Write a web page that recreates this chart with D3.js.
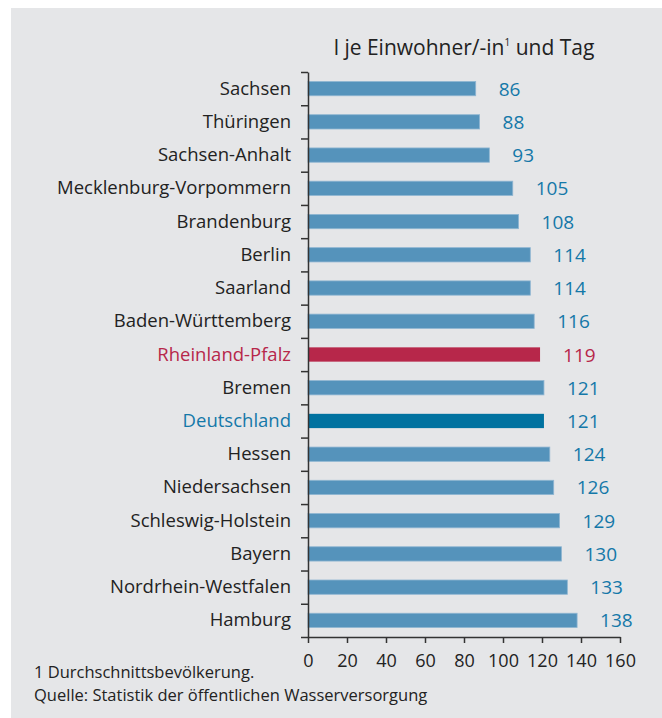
<!DOCTYPE html>
<html>
<head>
<meta charset="utf-8">
<script src="https://cdn.jsdelivr.net/npm/d3@7"></script>
<style>
  body { margin: 0; background: #fff; }
  text { font-family: "Open Sans", sans-serif; }
</style>
</head>
<body>
<svg id="chart"></svg>
<script>
// data
const categories = ["Sachsen", "Thüringen", "Sachsen-Anhalt", "Mecklenburg-Vorpommern",
    "Brandenburg", "Berlin", "Saarland", "Baden-Württemberg", "Rheinland-Pfalz", "Bremen",
    "Deutschland", "Hessen", "Niedersachsen", "Schleswig-Holstein", "Bayern",
    "Nordrhein-Westfalen", "Hamburg"];
const values = [86, 88, 93, 105, 108, 114, 114, 116, 119, 121, 121, 124, 126, 129, 130, 133, 138];
const xTicks = [0, 20, 40, 60, 80, 100, 120, 140, 160];
const title = "l je Einwohner/-in";
const footnotes = ["1 Durchschnittsbevölkerung.", "Quelle: Statistik der öffentlichen Wasserversorgung"];

const data = categories.map((c, i) => ({name: c, value: values[i]}));

let width = 662, height = 718;
let margin = {top: 72, right: 42, bottom: 81, left: 308};

const svg = d3.select("#chart")
    .attr("width", width)
    .attr("height", height);

// grey panel
svg.append("rect")
    .attr("x", 11).attr("y", 8)
    .attr("width", width - 11).attr("height", height - 8)
    .attr("fill", "#e5e6e8");

const x = d3.scaleLinear()
    .domain([0, 160])
    .range([margin.left, width - margin.right]);

const y = d3.scaleBand()
    .domain(categories)
    .range([margin.top, height - margin.bottom])
    .paddingInner(0.57)
    .paddingOuter(0.285);

function barColor(d) {
    if (d.name === "Rheinland-Pfalz") return "#b7274a";
    if (d.name === "Deutschland") return "#0072a0";
    return "#5593bb";
}
function textColor(d) {
    if (d.name === "Rheinland-Pfalz") return "#b7274a";
    return "#1478a8";
}

// bars
svg.selectAll(".bar")
    .data(data)
    .enter()
    .append("rect")
    .attr("class", "bar")
    .attr("x", x(0))
    .attr("y", d => y(d.name))
    .attr("width", d => x(d.value) - x(0))
    .attr("height", y.bandwidth())
    .attr("fill", barColor)
    .attr("stroke", d => d.name === "Rheinland-Pfalz" || d.name === "Deutschland" ? "none" : "#8fb6d2")
    .attr("stroke-width", 0.8);

// value labels
svg.selectAll(".val")
    .data(data)
    .enter()
    .append("text")
    .attr("class", "val")
    .attr("x", d => x(d.value) + 23)
    .attr("y", d => y(d.name) + y.bandwidth() / 2 + 7)
    .attr("font-size", 19)
    .attr("fill", textColor)
    .text(d => d.value);

// category labels
svg.selectAll(".cat")
    .data(data)
    .enter()
    .append("text")
    .attr("class", "cat")
    .attr("x", x(0) - 17)
    .attr("y", d => y(d.name) + y.bandwidth() / 2 + 6)
    .attr("text-anchor", "end")
    .attr("font-size", 18.5)
    .attr("fill", d => d.name === "Rheinland-Pfalz" ? "#b7274a" : d.name === "Deutschland" ? "#1478a8" : "#222")
    .text(d => d.name);

// y axis: ticks at the band edges
const yEdge = d3.scaleLinear()
    .domain([0, categories.length])
    .range([margin.top, height - margin.bottom]);
const yAxis = svg.append("g")
    .attr("transform", "translate(" + x(0) + ",0)")
    .call(d3.axisLeft(yEdge).tickValues(d3.range(categories.length + 1)).tickFormat("").tickSize(7).tickSizeOuter(0));
yAxis.selectAll("line, path").attr("stroke", "#333").attr("stroke-width", 1.5);

// x axis
const xAxis = svg.append("g")
    .attr("transform", "translate(0," + (height - margin.bottom) + ")")
    .call(d3.axisBottom(x).tickValues(xTicks).tickSize(6).tickSizeOuter(0).tickPadding(11));
xAxis.selectAll("line, path").attr("stroke", "#333").attr("stroke-width", 1.5);
xAxis.selectAll("text")
    .attr("font-family", "Open Sans, sans-serif")
    .attr("font-size", 18)
    .attr("fill", "#222");

// title
const t = svg.append("text")
    .attr("x", (x(0) + x(160)) / 2)
    .attr("y", 55)
    .attr("text-anchor", "middle")
    .attr("font-size", 21)
    .attr("fill", "#222");
t.append("tspan").text(title);
t.append("tspan").attr("font-size", 10).attr("dy", -9).text("1");
t.append("tspan").attr("dy", 9).text(" und Tag");

// footnotes
svg.selectAll(".note")
    .data(footnotes)
    .enter()
    .append("text")
    .attr("class", "note")
    .attr("x", 34)
    .attr("y", (d, i) => 678 + i * 23)
    .attr("font-size", 16.5)
    .attr("fill", "#222")
    .text(d => d);
</script>
</body>
</html>
